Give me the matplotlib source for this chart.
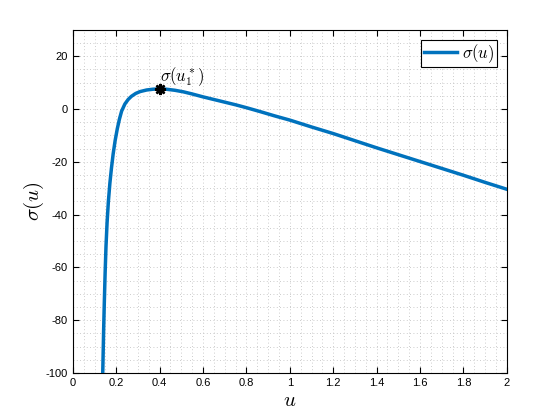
import matplotlib
matplotlib.use("Agg")
import matplotlib.pyplot as plt
from matplotlib.ticker import MultipleLocator

# values
u_vals = [0.138, 0.140, 0.142, 0.145, 0.149, 0.153, 0.158, 0.164, 0.171, 0.178,
          0.186, 0.195, 0.205, 0.215, 0.225, 0.240, 0.255, 0.270, 0.290, 0.310,
          0.340, 0.370, 0.400, 0.430, 0.470, 0.510, 0.550, 0.600, 0.650, 0.700,
          0.750, 0.800, 0.860, 0.930, 1.00, 1.10, 1.20, 1.30, 1.40, 1.50,
          1.60, 1.70, 1.80, 1.90, 2.00]
sigma_vals = [-100, -92, -84, -74, -62, -52, -43, -35, -28, -22.5,
              -17, -12, -7.5, -3.8, -0.8, 1.9, 3.6, 4.8, 5.9, 6.6,
              7.2, 7.5, 7.6, 7.5, 7.1, 6.5, 5.7, 4.6, 3.6, 2.6,
              1.6, 0.5, -0.9, -2.6, -4.2, -6.8, -9.3, -12.0, -14.7, -17.3,
              -19.9, -22.5, -25.1, -27.8, -30.4]

u_star = 0.40
sigma_star = 7.6

x_ticks = [0, 0.2, 0.4, 0.6, 0.8, 1, 1.2, 1.4, 1.6, 1.8, 2]
x_labels = ["0", "0.2", "0.4", "0.6", "0.8", "1", "1.2", "1.4", "1.6", "1.8", "2"]
y_ticks = [-100, -80, -60, -40, -20, 0, 20]

plt.rcParams["font.family"] = ["Liberation Sans", "DejaVu Sans"]
plt.rcParams["mathtext.fontset"] = "cm"
plt.rcParams["axes.unicode_minus"] = False

fig = plt.figure(figsize=(5.6, 4.2), dpi=100)
ax = fig.add_axes([0.13, 0.112, 0.775, 0.817])

ax.plot(u_vals, sigma_vals, color="#0072BD", lw=2.5, label=r"$\sigma(u)$",
        solid_joinstyle="round", zorder=3)
ax.plot([u_star], [sigma_star], marker=(8, 2, 0), color="black", ms=8, mew=1.8, zorder=4)
ax.text(u_star, sigma_star + 0.4, r"$\sigma(u_1^*)$", fontsize=12, ha="left", va="bottom")

ax.set_xlim(0, 2)
ax.set_ylim(-100, 30)
ax.set_xticks(x_ticks)
ax.set_xticklabels(x_labels)
ax.set_yticks(y_ticks)
ax.xaxis.set_minor_locator(MultipleLocator(0.05))
ax.yaxis.set_minor_locator(MultipleLocator(5))

ax.grid(which="both", color="#aaaaaa", linestyle=(0, (1, 3)), linewidth=0.6, alpha=0.8)
ax.tick_params(which="major", direction="in", top=True, right=True, length=4, width=0.8, labelsize=8)
ax.tick_params(which="minor", length=0, top=True, right=True)
for s in ax.spines.values():
    s.set_linewidth(0.8)

ax.set_xlabel(r"$u$", fontsize=15, labelpad=2)
ax.set_ylabel(r"$\sigma(u)$", fontsize=15, labelpad=0)

leg = ax.legend(loc="upper right", fontsize=12, fancybox=False, framealpha=1,
                edgecolor="black", handlelength=2.0, borderpad=0.15, handletextpad=0.3,
                borderaxespad=0, bbox_to_anchor=(0.977, 0.971))
leg.get_frame().set_linewidth(0.8)

fig.savefig("out.png", dpi=100)
